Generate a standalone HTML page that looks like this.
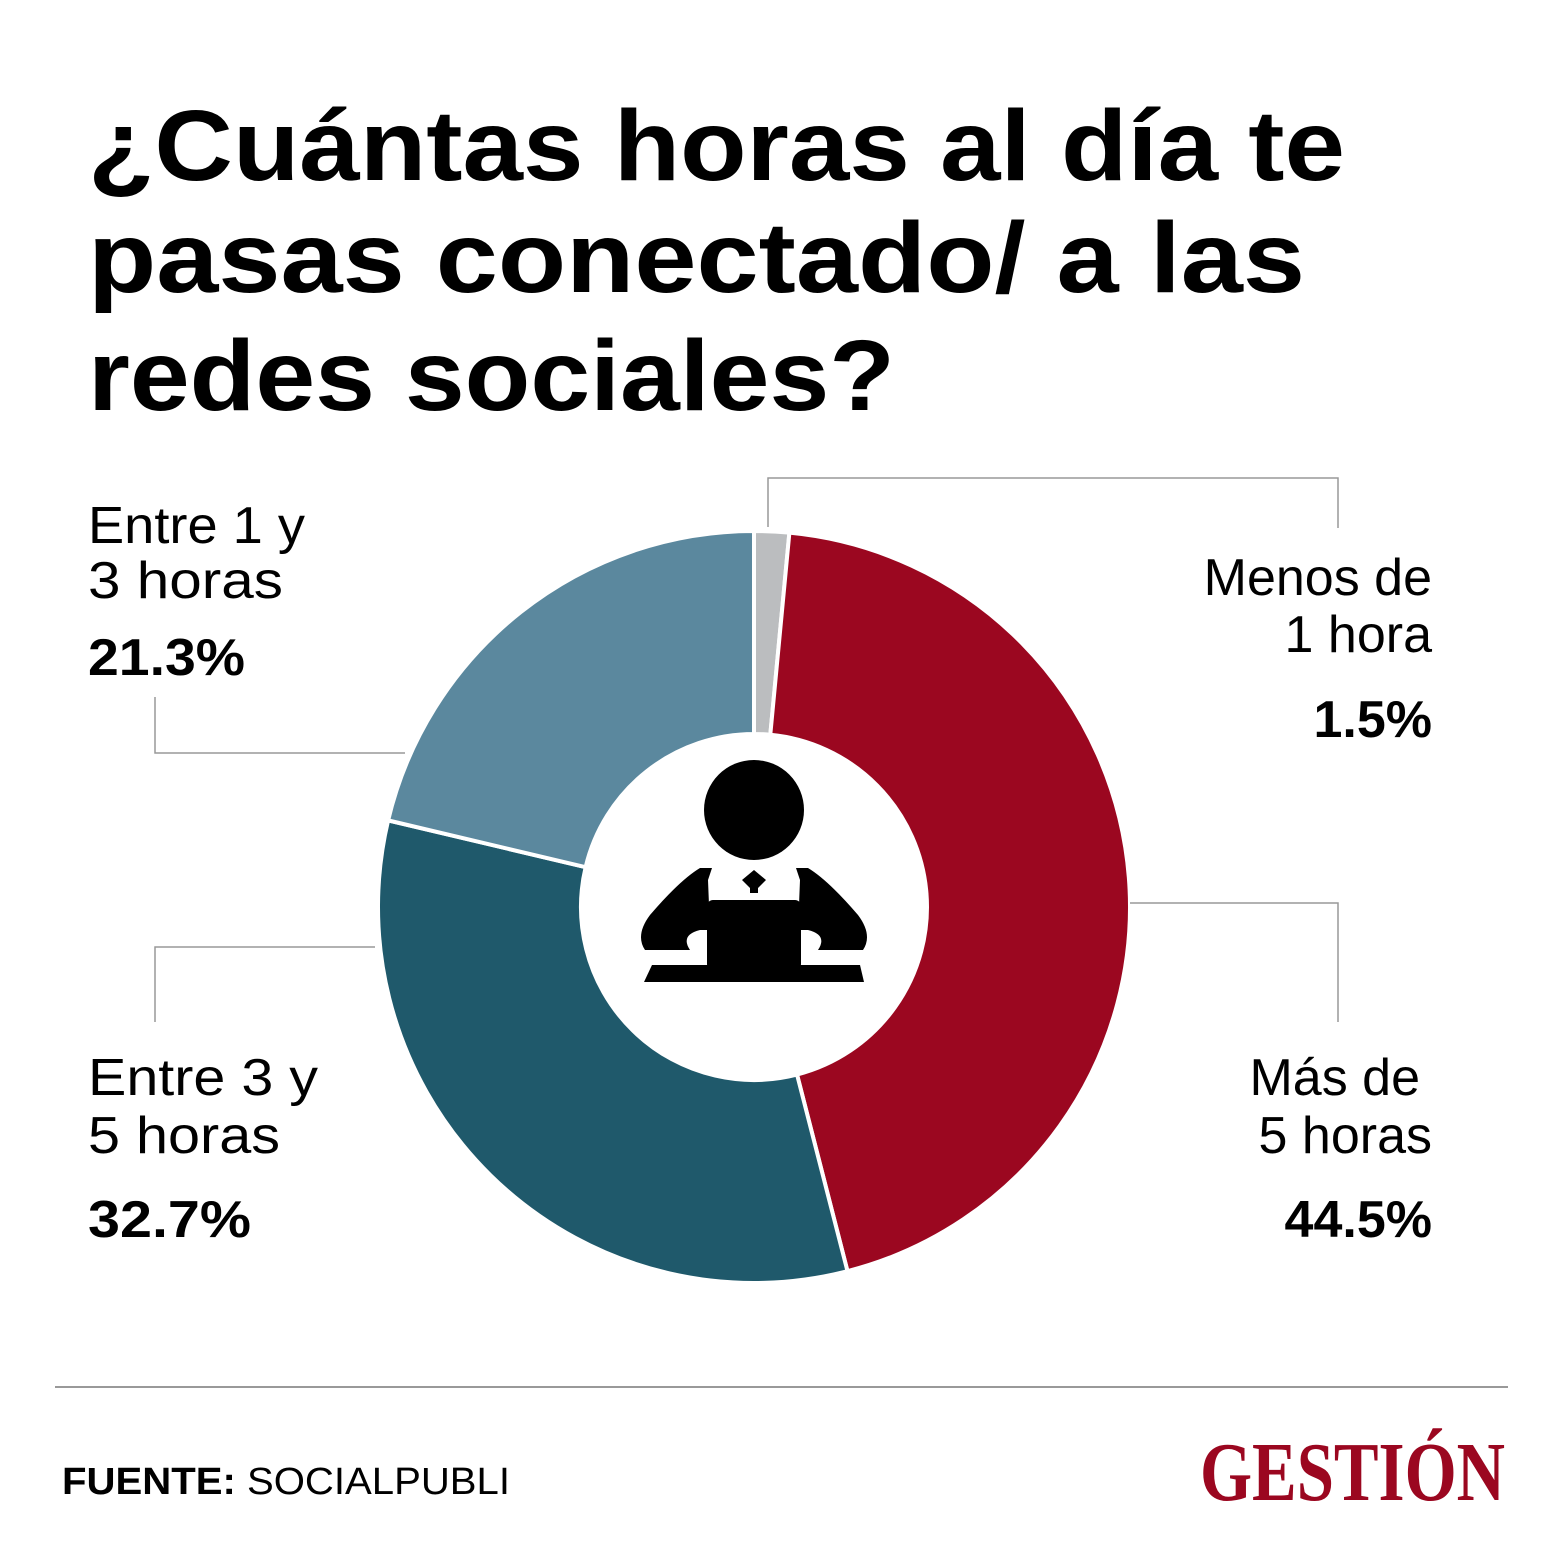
<!DOCTYPE html>
<html><head><meta charset="utf-8"><style>
html,body{margin:0;padding:0;background:#fff}
svg{display:block}
</style></head><body>
<svg width="1544" height="1549" viewBox="0 0 1544 1549" xmlns="http://www.w3.org/2000/svg">
<g font-family="Liberation Sans, sans-serif" font-weight="bold" font-size="100" fill="#000">
<text x="88" y="180" textLength="1257" lengthAdjust="spacingAndGlyphs">¿Cuántas horas al día te</text>
<text x="88" y="292" textLength="1217" lengthAdjust="spacingAndGlyphs">pasas conectado/ a las</text>
<text x="88" y="410" textLength="807" lengthAdjust="spacingAndGlyphs">redes sociales?</text>
</g>
<g id="donut"></g>
<g stroke="#999" stroke-width="1.5" fill="none">
<polyline points="768,527 768,478 1338,478 1338,528"/>
<polyline points="1130,903 1338,903 1338,1022"/>
<polyline points="405,753 155,753 155,697"/>
<polyline points="375,947 155,947 155,1022"/>
</g>
<g font-family="Liberation Sans, sans-serif" font-size="52" fill="#000">
<g>
<text x="88" y="543" textLength="217" lengthAdjust="spacingAndGlyphs">Entre 1 y</text>
<text x="88" y="598" textLength="195" lengthAdjust="spacingAndGlyphs">3 horas</text>
<text x="88" y="675" font-weight="bold" textLength="157" lengthAdjust="spacingAndGlyphs">21.3%</text></g>
<g text-anchor="end">
<text x="1432" y="595">Menos de</text><text x="1432" y="652">1 hora</text>
<text x="1432" y="737" font-weight="bold">1.5%</text></g>
<g>
<text x="88" y="1095" textLength="230" lengthAdjust="spacingAndGlyphs">Entre 3 y</text>
<text x="88" y="1153" textLength="192" lengthAdjust="spacingAndGlyphs">5 horas</text>
<text x="88" y="1237" font-weight="bold" textLength="163" lengthAdjust="spacingAndGlyphs">32.7%</text></g>
<g text-anchor="end">
<text x="1420" y="1095">Más de</text><text x="1432" y="1153">5 horas</text>
<text x="1432" y="1237" font-weight="bold">44.5%</text></g>
</g>
<g fill="#000">
<circle cx="754" cy="810" r="50"/>
<path d="M712 868 L700 868 Q680 880 650 915 Q635 935 645 950 L690 950 Q680 935 700 930 L710 930 L708 880 Z"/>
<path d="M796 868 L808 868 Q828 880 858 915 Q873 935 863 950 L818 950 Q828 935 808 930 L798 930 L800 880 Z"/>
<path d="M742 880 L754 870 L766 880 L758 888 L758 893 L750 893 L750 888 Z"/>
<rect x="707" y="900" width="94" height="70" rx="6"/>
<path d="M652 965 L860 965 L864 982 L644 982 Z"/>
</g>
<line x1="55" y1="1387" x2="1508" y2="1387" stroke="#999" stroke-width="2"/>
<text x="62" y="1494" font-family="Liberation Sans, sans-serif" font-size="38" textLength="448" lengthAdjust="spacingAndGlyphs"><tspan font-weight="bold">FUENTE:</tspan> SOCIALPUBLI</text>
<text x="1505" y="1500" text-anchor="end" font-family="Liberation Serif, serif" font-weight="bold" font-size="84" fill="#9b0720" textLength="305" lengthAdjust="spacingAndGlyphs">GESTIÓN</text>
</svg>
<script>
const categories = ["Menos de 1 hora", "Más de 5 horas", "Entre 3 y 5 horas", "Entre 1 y 3 horas"];
const values = [1.5, 44.5, 32.7, 21.3];
const colors = ["#bbbdbf", "#9b0720", "#1f596b", "#5b889e"];
const g = document.getElementById('donut');
const cx = 754, cy = 907, R = 376, r = 173;
const total = values.reduce((a, b) => a + b, 0);
function pt(rad, a) { return [cx + rad * Math.sin(a), cy - rad * Math.cos(a)]; }
let acc = 0;
values.forEach((v, i) => {
  const a0 = acc / total * 2 * Math.PI; acc += v;
  const a1 = acc / total * 2 * Math.PI;
  const large = (a1 - a0) > Math.PI ? 1 : 0;
  const [x0, y0] = pt(R, a0), [x1, y1] = pt(R, a1), [x2, y2] = pt(r, a1), [x3, y3] = pt(r, a0);
  const p = document.createElementNS('http://www.w3.org/2000/svg', 'path');
  p.setAttribute('d', `M${x0} ${y0} A${R} ${R} 0 ${large} 1 ${x1} ${y1} L${x2} ${y2} A${r} ${r} 0 ${large} 0 ${x3} ${y3} Z`);
  p.setAttribute('fill', colors[i]);
  p.setAttribute('stroke', '#fff');
  p.setAttribute('stroke-width', '4');
  
  
  g.appendChild(p);
});
</script>
</body></html>
